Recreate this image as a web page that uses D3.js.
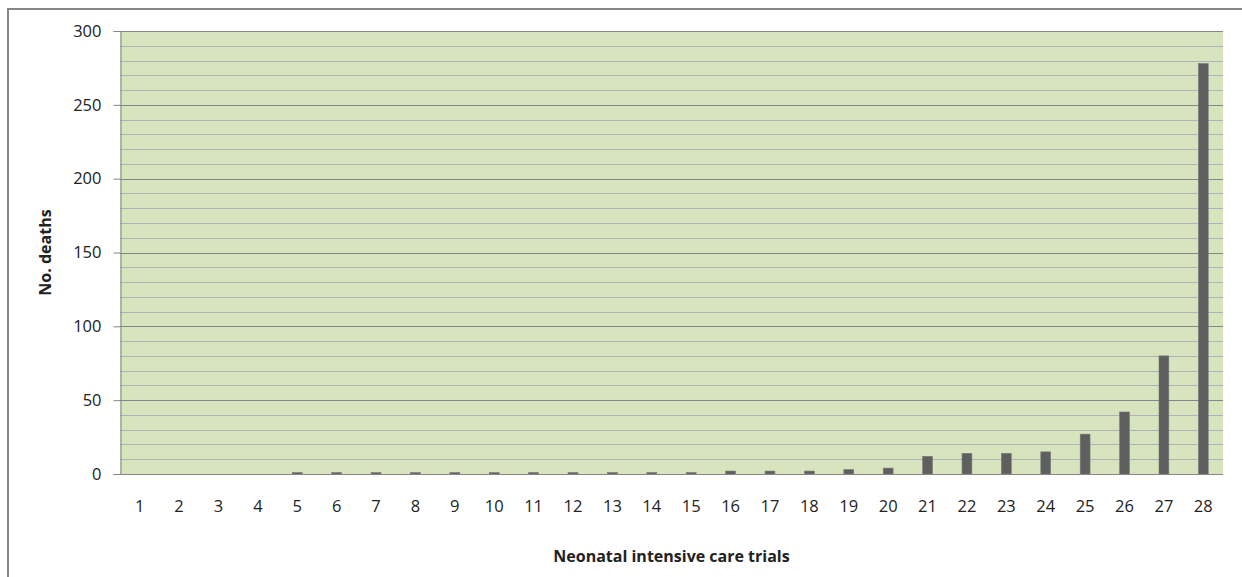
<!DOCTYPE html>
<html>
<head>
<meta charset="utf-8">
<script src="https://cdn.jsdelivr.net/npm/d3@7"></script>
<style>
  html, body { margin: 0; padding: 0; background: #fff; }
  svg { display: block; }
  text { font-family: "Open Sans", "Liberation Sans", sans-serif; fill: #222; }
</style>
</head>
<body>
<svg id="chart" width="1242" height="577"></svg>
<script>
// ---- data ----
const categories = ["1","2","3","4","5","6","7","8","9","10","11","12","13","14","15","16","17","18","19","20","21","22","23","24","25","26","27","28"];
const deaths = [0,0,0,0,1,1,1,1,1,1,1,1,1,1,1,2,2,2,3,4,12,14,14,15,27,42,80,278];
const yTicks = [0,50,100,150,200,250,300];
const minorTicks = d3.range(0, 301, 10);
const xTitle = "Neonatal intensive care trials";
const yTitle = "No. deaths";

// ---- layout ----
const W = 1242, H = 577;
const plot = { left: 120, top: 31, right: 1223, bottom: 474 };

const svg = d3.select("#chart");

// outer chart border
svg.append("rect")
  .attr("x", 8).attr("y", 9)
  .attr("width", W + 20).attr("height", H + 20)
  .attr("fill", "#fff")
  .attr("stroke", "#868686").attr("stroke-width", 2);

const x = d3.scaleBand()
  .domain(categories)
  .range([plot.left, plot.right])
  .paddingInner(0).paddingOuter(0);

const y = d3.scaleLinear()
  .domain([0, 300])
  .range([plot.bottom, plot.top]);

// plot background
svg.append("rect")
  .attr("x", plot.left).attr("y", plot.top)
  .attr("width", plot.right - plot.left).attr("height", plot.bottom - plot.top)
  .attr("fill", "#d7e4bd");

// minor gridlines
svg.append("g")
  .selectAll("line")
  .data(minorTicks.filter(v => v % 50 !== 0))
  .join("line")
  .attr("x1", plot.left).attr("x2", plot.right)
  .attr("y1", d => Math.round(y(d)) + 0.5).attr("y2", d => Math.round(y(d)) + 0.5)
  .attr("stroke", "#b1b1b8").attr("stroke-width", 1);

// major gridlines
svg.append("g")
  .selectAll("line")
  .data(yTicks.filter(v => v > 0))
  .join("line")
  .attr("x1", plot.left).attr("x2", plot.right)
  .attr("y1", d => Math.round(y(d)) + 0.5).attr("y2", d => Math.round(y(d)) + 0.5)
  .attr("stroke", "#868686").attr("stroke-width", 1);

// bars (gap width 300%)
const barW = x.bandwidth() / 4;
svg.append("g")
  .selectAll("rect")
  .data(categories.map((c, i) => ({ c, v: deaths[i] })))
  .join("rect")
  .attr("x", d => x(d.c) + (x.bandwidth() - barW) / 2)
  .attr("y", d => y(d.v))
  .attr("width", barW)
  .attr("height", d => y(0) - y(d.v))
  .attr("fill", "#5f5f5f")
  .attr("stroke", "#7a7a7a").attr("stroke-width", 0.6);

// y axis
const yAxis = d3.axisLeft(y).tickValues(yTicks).tickSize(7).tickPadding(12);
const gy = svg.append("g")
  .attr("transform", `translate(${plot.left + 0.5},0)`)
  .call(yAxis);
gy.select(".domain").attr("stroke", "#868686");
gy.selectAll(".tick line").attr("stroke", "#868686");
gy.selectAll(".tick text")
  .style("font-size", "16.5px")
  .attr("fill", "#222");

// x axis
const xAxis = d3.axisBottom(x).tickSize(0).tickPadding(26);
const gx = svg.append("g")
  .attr("transform", `translate(0,${plot.bottom + 0.5})`)
  .call(xAxis);
gx.select(".domain").attr("stroke", "#868686").attr("d", `M${plot.left},0H${plot.right}`);
gx.selectAll(".tick text")
  .style("font-size", "16.5px")
  .attr("fill", "#222");

// axis titles
svg.append("text")
  .attr("x", (plot.left + plot.right) / 2)
  .attr("y", 562)
  .attr("text-anchor", "middle")
  .style("font-size", "16px")
  .style("font-weight", "bold")
  .text(xTitle);

svg.append("text")
  .attr("transform", `translate(51,${(plot.top + plot.bottom) / 2}) rotate(-90)`)
  .attr("text-anchor", "middle")
  .style("font-size", "16px")
  .style("font-weight", "bold")
  .text(yTitle);
</script>
</body>
</html>
